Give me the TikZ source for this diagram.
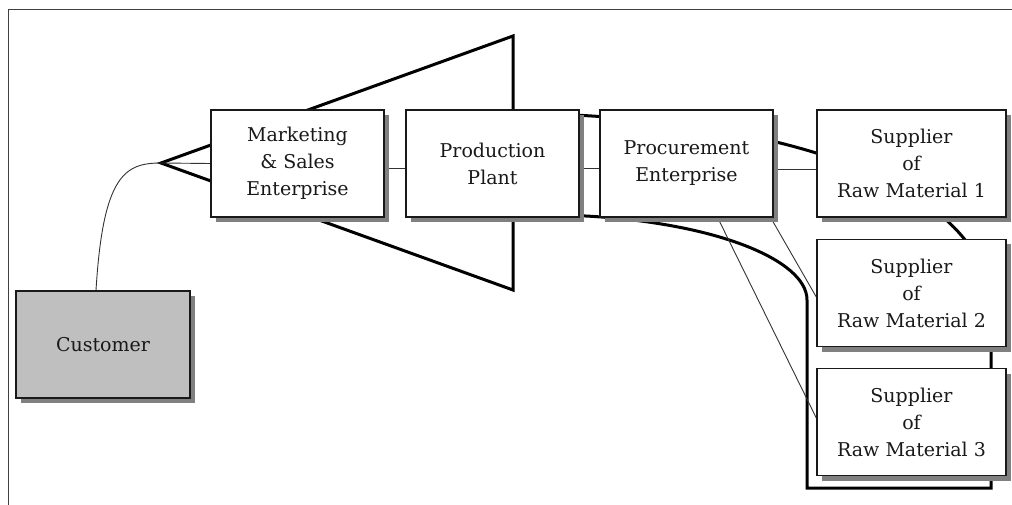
\documentclass[tikz,border=0pt]{standalone}
\usepackage{fontspec}
\setmainfont{DejaVu Serif}
\usetikzlibrary{shadows,backgrounds}

\begin{document}
\begin{tikzpicture}[x=1pt,y=-1pt,
	box/.style={draw=black!90,line width=1.4pt,fill=white,align=center,
		minimum width=173pt,minimum height=107pt,inner sep=0pt,
		text=black!90,font=\fontsize{19}{27}\selectfont,
		drop shadow={shadow xshift=5pt,shadow yshift=-5pt,fill=black!50,opacity=1}},
	supbox/.style={box,minimum width=189pt},
	custbox/.style={box,fill=black!25,minimum width=174pt},
	thickline/.style={line width=3pt,line join=miter},
	thinline/.style={line width=0.9pt,black!80},
	frame/.style={line width=1pt,black!75}]
	
	\useasboundingbox (0,0) rectangle (1012,505);
	
	% Draw the frame
	\draw[frame] (8,505) -- (8,10) -- (1012,10);
	
	% Draw the boxes
	\node[box] (mkt) at (297.5,163.5) {Marketing\\\& Sales\\Enterprise};
	\node[box] (prod) at (492.5,163.5) {Production\\Plant};
	\node[box] (proc) at (686.5,163.5) {Procurement\\Enterprise};
	\node[supbox] (sup1) at (911.5,163.5) {Supplier\\of\\Raw Material 1};
	\node[supbox] (sup2) at (911.5,293) {Supplier\\of\\Raw Material 2};
	\node[supbox] (sup3) at (911.5,422) {Supplier\\of\\Raw Material 3};
	\node[custbox] (cust) at (103,344.5) {Customer};
	
	% Corners of the funnel and of the supply loop
	\coordinate (apex) at (161,163);
	\coordinate (funtop) at (513,36);
	\coordinate (funbot) at (513,290);
	\coordinate (loopne) at (991,310);
	\coordinate (loopse) at (991,488);
	\coordinate (loopsw) at (807,488);
	\coordinate (loopnw) at (807,300);
	
	\begin{scope}[on background layer]
		% Draw the funnel
		\draw[thickline] (apex) -- (funtop) -- (funbot) -- cycle;
		
		% Draw the supply loop
		\draw[thickline] ([yshift=-6pt]prod.north east) .. controls (850,130) and (991,210) .. (loopne)
			-- (loopse) -- (loopsw) -- (loopnw)
			.. controls (807,260) and (715,222) .. ([yshift=2pt]prod.south east);
		
		% Draw the thin links
		\draw[thinline] ([xshift=-7pt]cust.north) .. controls (103,175) and (125,163) .. (apex);
		\draw[thinline] (apex) -- (mkt.west);
		\draw[thinline] ([yshift=-5pt]mkt.east) -- ([yshift=-5pt]prod.west);
		\draw[thinline] ([yshift=-5pt]prod.east) -- ([yshift=-5pt]proc.west);
		\draw[thinline] ([yshift=-6pt]proc.east) -- ([yshift=-6pt]sup1.west);
		\draw[thinline] ([xshift=-3pt]proc.south east) -- ([yshift=-4pt]sup2.west);
		\draw[thinline] ([xshift=-56pt]proc.south east) -- ([yshift=4pt]sup3.west);
	\end{scope}
	
\end{tikzpicture}
\end{document}
